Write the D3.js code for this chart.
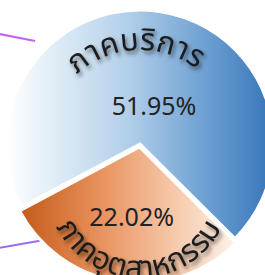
<!DOCTYPE html>
<html>
<head>
<meta charset="utf-8">
<script src="https://cdn.jsdelivr.net/npm/d3@7"></script>
<style>
  html, body { margin: 0; padding: 0; background: #fff; }
  svg { display: block; }
</style>
</head>
<body>
<div id="chart"></div>
<script>
'use strict';

// data
var categories  = ['ภาคบริการ', 'ภาคอุตสาหกรรม'];
var shares      = [51.95, 22.02];
var shareLabels = ['51.95%', '22.02%'];

var width  = 265,
    height = 275,
    cx = 140,
    cy = 144,
    startDeg = 242,
    toRad = Math.PI / 180;

var fontFamily = "'Noto Sans Thai', 'Kanit', 'Prompt', 'Noto Sans', sans-serif";

// per slice layout tweaks (not data)
var layout = [
    { explode: 0, rOuter: 134, fillId: 'gBlue',
      numAngle: 12, numR: 40, numSize: 25,
      nameAngle: -11, nameShift: 0, nameR: 94, nameSize: 31, nameTop: true },
    { explode: 3, rOuter: 136, fillId: 'gOrange',
      numAngle: -2, numR: 71, numSize: 25,
      nameAngle: -8, nameShift: 38, nameR: 93, nameSize: 31, nameTop: false }
];

var svg = d3.select('#chart')
    .append('svg')
    .attr('width', width)
    .attr('height', height);

var defs = svg.append('defs');

// gradients are in slice-group coordinates (origin at the pie centre)
function gradient(id, x1, x2, stops) {
    var g = defs.append('linearGradient')
        .attr('id', id)
        .attr('gradientUnits', 'userSpaceOnUse')
        .attr('x1', x1).attr('x2', x2)
        .attr('y1', 0).attr('y2', 0);
    stops.forEach(function (s) {
        g.append('stop').attr('offset', s[0]).attr('stop-color', s[1]);
    });
}
gradient('gBlue', -134, 134, [[0, '#ffffff'], [0.45, '#b3d0ea'], [0.75, '#6c9fd2'], [1, '#3574b8']]);
gradient('gOrange', -120, 95, [[0, '#c45a18'], [0.4, '#ea9562'], [0.75, '#f7cdb1'], [1, '#fdf1e9']]);

var shadow = defs.append('filter')
    .attr('id', 'shadow')
    .attr('x', '-20%').attr('y', '-20%')
    .attr('width', '140%').attr('height', '140%');
shadow.append('feDropShadow')
    .attr('dx', 2).attr('dy', 3)
    .attr('stdDeviation', 2)
    .attr('flood-color', '#000')
    .attr('flood-opacity', 0.55);

var pie = d3.pie()
    .sort(null)
    .startAngle(startDeg * toRad)
    .endAngle(startDeg * toRad + 2 * Math.PI);

var slices = pie(shares);

function polar(a, r) {
    return [Math.sin(a) * r, -Math.cos(a) * r];
}

// leader lines of the labels that sit outside this crop
var leaders = [
    { angle: 314.5, r: 147, dx: -36, dy: -7, color: '#c660f2' },
    { angle: 223.5, r: 131, dx: -52, dy: 9, color: '#9a6cf6' }
];
svg.selectAll('line.leader')
    .data(leaders)
    .enter()
    .append('line')
    .attr('class', 'leader')
    .attr('x1', function (d) { return cx + polar(d.angle * toRad, d.r)[0]; })
    .attr('y1', function (d) { return cy + polar(d.angle * toRad, d.r)[1]; })
    .attr('x2', function (d) { return cx + polar(d.angle * toRad, d.r)[0] + d.dx; })
    .attr('y2', function (d) { return cy + polar(d.angle * toRad, d.r)[1] + d.dy; })
    .attr('stroke', function (d) { return d.color; })
    .attr('stroke-width', 2);

var groups = svg.selectAll('g.slice')
    .data(slices)
    .enter()
    .append('g')
    .attr('class', 'slice')
    .attr('transform', function (d, i) {
        var mid = (d.startAngle + d.endAngle) / 2,
            p = polar(mid, layout[i].explode);
        return 'translate(' + (cx + p[0]) + ',' + (cy + p[1]) + ')';
    });

groups.append('path')
    .attr('d', function (d, i) {
        return d3.arc().innerRadius(0).outerRadius(layout[i].rOuter)(d);
    })
    .attr('fill', function (d, i) { return 'url(#' + layout[i].fillId + ')'; })
    .attr('stroke', '#fff')
    .attr('stroke-width', 3)
    .attr('stroke-linejoin', 'round');

// percentages
groups.append('text')
    .attr('x', function (d, i) {
        var a = (d.startAngle + d.endAngle) / 2 + layout[i].numAngle * toRad;
        return polar(a, layout[i].numR)[0];
    })
    .attr('y', function (d, i) {
        var a = (d.startAngle + d.endAngle) / 2 + layout[i].numAngle * toRad;
        return polar(a, layout[i].numR)[1];
    })
    .attr('text-anchor', 'middle')
    .attr('dominant-baseline', 'central')
    .attr('font-family', fontFamily)
    .attr('font-size', function (d, i) { return layout[i].numSize; })
    .attr('fill', '#222')
    .text(function (d, i) { return shareLabels[i]; });

// curved category names
groups.each(function (d, i) {
    var g = d3.select(this),
        L = layout[i],
        mid = (d.startAngle + d.endAngle) / 2,
        a = mid + L.nameAngle * toRad,
        c = polar(a, L.nameShift),
        span = 85 * toRad,
        p = d3.path(),
        s, e, ps;
    if (L.nameTop) {
        s = a - span; e = a + span;
        ps = polar(s, L.nameR);
        p.moveTo(c[0] + ps[0], c[1] + ps[1]);
        p.arc(c[0], c[1], L.nameR, s - Math.PI / 2, e - Math.PI / 2, false);
    } else {
        s = a + span; e = a - span;
        ps = polar(s, L.nameR);
        p.moveTo(c[0] + ps[0], c[1] + ps[1]);
        p.arc(c[0], c[1], L.nameR, s - Math.PI / 2, e - Math.PI / 2, true);
    }
    g.append('path')
        .attr('id', 'namePath' + i)
        .attr('d', p.toString())
        .attr('fill', 'none');
    g.append('text')
        .attr('font-family', fontFamily)
        .attr('font-size', L.nameSize)
        .attr('fill', '#1e1e1e')
        .attr('filter', 'url(#shadow)')
        .append('textPath')
        .attr('href', '#namePath' + i)
        .attr('startOffset', '50%')
        .attr('text-anchor', 'middle')
        .text(categories[i]);
});
</script>
</body>
</html>
